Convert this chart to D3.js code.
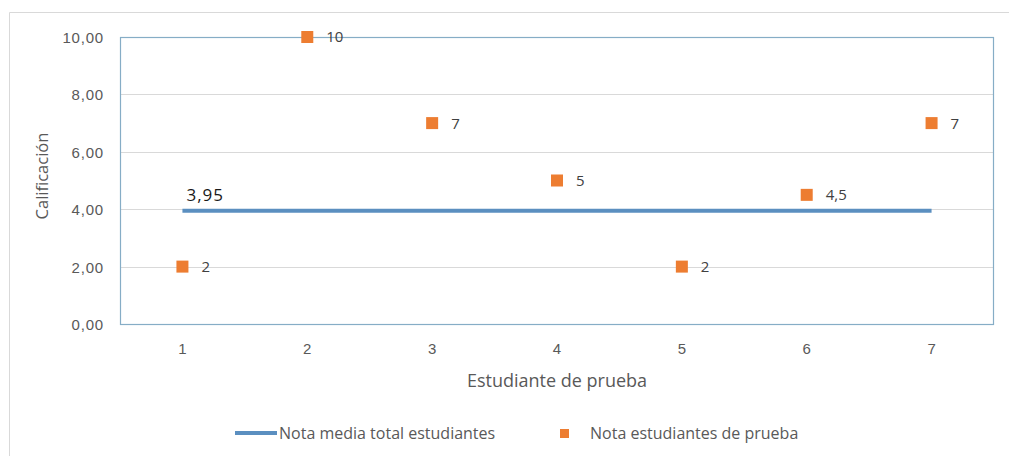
<!DOCTYPE html>
<html><head><meta charset="utf-8">
<script src="https://cdn.jsdelivr.net/npm/d3@7"></script>
<style>body{margin:0;background:#fff;}svg{display:block;font-family:"Open Sans","Noto Sans",sans-serif;}</style>
</head><body><svg id="c" width="1009" height="456"></svg>
<script>
const categories = [1,2,3,4,5,6,7];
const notaPrueba = [2,10,7,5,2,4.5,7];
const notaMedia = [3.95,3.95,3.95,3.95,3.95,3.95,3.95];
const pruebaLabels = ["2","10","7","5","2","4,5","7"];
const mediaLabel = "3,95";
const yTicks = [0,2,4,6,8,10];
const seriesNames = ["Nota media total estudiantes","Nota estudiantes de prueba"];
const axisTitles = {x:"Estudiante de prueba", y:"Calificación"};

const svg = d3.select("#c");
const L=120, R=994, T=37, B=324;
// outer chart border
svg.append("path").attr("d","M9.5,456 V12.5 H1009").attr("fill","none").attr("stroke","#d9d9d9");

const x = d3.scaleBand().domain(categories).range([L,R]);
const y = d3.scaleLinear().domain([0,10]).range([B,T]);
const fmt = v => d3.format(".2f")(v).replace(".",",");

// gridlines
svg.append("g").selectAll("line").data(yTicks.filter(t=>t>0&&t<10)).join("line")
  .attr("x1",L).attr("x2",R).attr("y1",d=>Math.round(y(d))+0.5).attr("y2",d=>Math.round(y(d))+0.5)
  .attr("stroke","#d9d9d9");
// plot border
svg.append("rect").attr("x",L+0.5).attr("y",T+0.5).attr("width",R-L-1).attr("height",B-T)
  .attr("fill","none").attr("stroke","#86adc6").attr("stroke-width",1.2);

// y axis
const ya = svg.append("g").attr("transform",`translate(${L-16},0)`)
  .call(d3.axisLeft(y).tickValues(yTicks).tickFormat(fmt).tickSize(0).tickPadding(0));
ya.select(".domain").remove();
ya.selectAll("text").attr("fill","#595959").attr("font-size",15).attr("letter-spacing","0.8px")
  .attr("font-family","inherit").attr("dy","0.36em");

// x axis
const xa = svg.append("g").attr("transform",`translate(0,${B+19})`)
  .call(d3.axisBottom(x).tickSize(0).tickPadding(0));
xa.select(".domain").remove();
xa.selectAll("text").attr("fill","#595959").attr("font-size",15).attr("font-family","inherit").attr("dy","0.75em");

// axis titles
svg.append("text").attr("x",(L+R)/2).attr("y",387).attr("text-anchor","middle")
  .attr("fill","#595959").attr("font-size",18).text(axisTitles.x);
svg.append("text").attr("transform",`translate(48,176) rotate(-90)`).attr("text-anchor","middle")
  .attr("fill","#595959").attr("font-size",16.5).text(axisTitles.y);

const cx = d => x(d)+x.bandwidth()/2;
// mean line
const line = d3.line().x((d,i)=>cx(categories[i])).y(d=>y(d));
svg.append("path").datum(notaMedia).attr("d",line).attr("fill","none")
  .attr("stroke","#5b8fc0").attr("stroke-width",4);
svg.append("text").attr("x",cx(categories[0])+4).attr("y",y(notaMedia[0])-9.5)
  .attr("font-size",17).attr("letter-spacing","1px").attr("fill","#1a1a1a").text(mediaLabel);

// markers
const s=12;
svg.append("g").selectAll("rect").data(notaPrueba).join("rect")
  .attr("x",(d,i)=>cx(categories[i])-s/2).attr("y",d=>y(d)-s/2)
  .attr("width",s).attr("height",s).attr("fill","#ed7d31");
svg.append("g").selectAll("text").data(notaPrueba).join("text")
  .attr("x",(d,i)=>cx(categories[i])+19).attr("y",d=>y(d)).attr("dy","0.36em")
  .attr("font-size",15).attr("fill","#404040").text((d,i)=>pruebaLabels[i]);

// legend
const lg = svg.append("g");
lg.append("line").attr("x1",235).attr("x2",277).attr("y1",433).attr("y2",433)
  .attr("stroke","#5b8fc0").attr("stroke-width",4);
lg.append("text").attr("x",279).attr("y",433).attr("dy","0.36em").attr("font-size",16)
  .attr("fill","#595959").text(seriesNames[0]);
lg.append("rect").attr("x",560).attr("y",429).attr("width",9).attr("height",9).attr("fill","#ed7d31");
lg.append("text").attr("x",590).attr("y",433).attr("dy","0.36em").attr("font-size",16)
  .attr("fill","#595959").text(seriesNames[1]);
</script></body></html>
